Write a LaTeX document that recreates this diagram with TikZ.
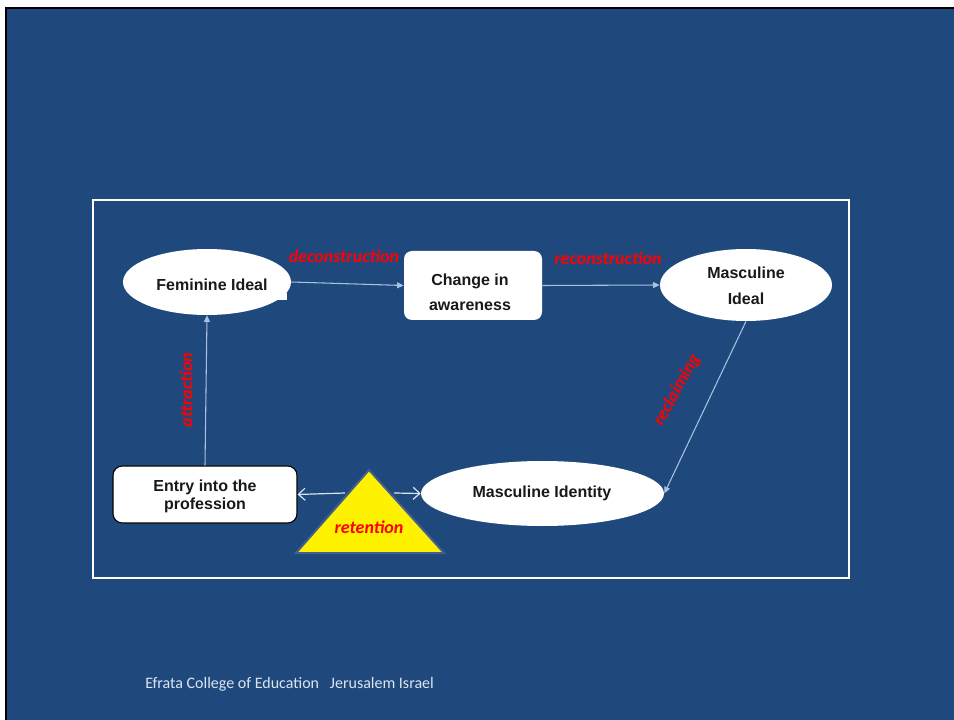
\documentclass[tikz,border=0pt]{standalone}
\usepackage{fontspec}
\setmainfont{Liberation Sans}
\newfontfamily\calib{Carlito}
\usetikzlibrary{shapes.geometric,arrows.meta}
\definecolor{slideblue}{HTML}{1F497D}
\definecolor{arrowblue}{HTML}{A9C0DE}
\definecolor{tribord}{HTML}{40608F}
\definecolor{footc}{HTML}{DCE4EF}
\definecolor{labred}{HTML}{FF0000}
\tikzset{
  ell/.style={ellipse, fill=white, draw=none, inner sep=0pt},
  rbox/.style={rectangle, fill=white, inner sep=0pt},
  txt/.style={inner sep=0pt, text=black!90, align=center},
  conn/.style={draw=arrowblue, line width=0.8pt, -{Triangle[length=5pt,width=4.5pt]}},
  dconn/.style={draw=footc, line width=0.9pt, -{Straight Barb[length=5pt,width=9pt]}},
  lab/.style={font=\calib\bfseries\itshape\fontsize{13.5pt}{16pt}\selectfont, text=labred, inner sep=0pt},
}
\begin{document}
\begin{tikzpicture}[x=0.75pt,y=-0.75pt]
\useasboundingbox (0,0) rectangle (954,720);
\fill[white] (0,0) rectangle (954,720);
\fill[slideblue] (6,8) rectangle (954,720);
\draw[black, line width=1.5pt] (6,720) -- (6,8) -- (954,8);
% frame
\draw[white, line width=1.5pt] (93,200) rectangle (849,578);
% shapes
\node[ell, minimum width=126pt, minimum height=49.5pt] (fem) at (207,282) {};
\fill[white] (276,293) rectangle (287,300);
\node[rbox, rounded corners=6pt, minimum width=103.5pt, minimum height=51.75pt] (chg) at (473,285.5) {};
\node[ell, minimum width=129pt, minimum height=54pt] (mi) at (746,285) {};
\node[ell, minimum width=182.25pt, minimum height=48.75pt] (mid) at (542.5,493.5) {};
\node[rbox, draw=black, line width=0.8pt, rounded corners=7pt, minimum width=138pt, minimum height=42.75pt] (ent) at (205,494.5) {};
% texts
\node[txt, font=\bfseries\fontsize{12pt}{14pt}\selectfont] (femt) at (212,285) {Feminine Ideal};
\node[txt, font=\bfseries\fontsize{12pt}{18.75pt}\selectfont] (chgt) at (470,292.5) {Change in\\awareness};
\node[txt, font=\bfseries\fontsize{12pt}{19.5pt}\selectfont] (mit) at (746,285.5) {Masculine\\Ideal};
\node[txt, font=\bfseries\fontsize{12pt}{14pt}\selectfont] (midt) at (542,493.5) {Masculine Identity};
\node[txt, font=\bfseries\fontsize{12pt}{13.5pt}\selectfont] (entt) at (205,496) {Entry into the\\profession};
% triangle
\coordinate (tA) at (369,470);
\coordinate (tB) at (296,553);
\coordinate (tC) at (444,553);
\filldraw[fill=yellow, draw=tribord, line width=1.5pt, line join=miter] (tA) -- (tB) -- (tC) -- cycle;
\node[lab] (ret) at (369,527) {retention};
\coordinate (tl) at (345,493);
\coordinate (tr) at (394,493);
% connectors
\draw[conn] (fem.east) -- (chg.west);
\draw[conn] (chg.east) -- (mi.west);
\draw[conn] (mi.south) -- (mid.east);
\draw[conn] (ent.north) -- (fem.south);
\draw[dconn] (tl) -- (ent.east);
\draw[dconn] (tr) -- (mid.west);
% labels
\node[lab] (l1) at (344,256) {deconstruction};
\node[lab] (l2) at (608,258) {reconstruction};
\node[lab, rotate=90] (l3) at (186,390) {attraction};
\node[lab, rotate=61] (l4) at (677,390) {reclaiming};
% footer
\node[anchor=west, inner sep=0pt, font=\calib\fontsize{12pt}{14pt}\selectfont, text=footc] (foot) at (145,684) {Efrata College of Education\ \ \ Jerusalem Israel};
\end{tikzpicture}
\end{document}
